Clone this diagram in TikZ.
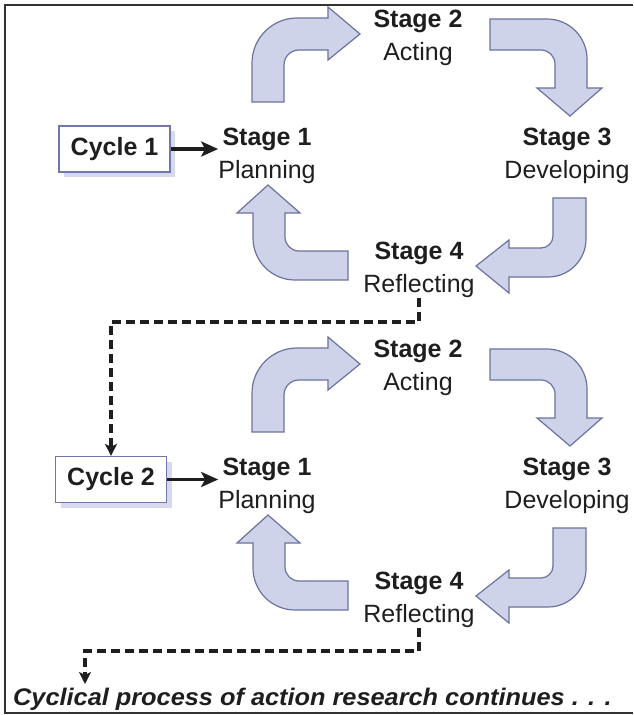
\documentclass[tikz,border=0pt]{standalone}
\usepackage{fontspec}
\setmainfont{Liberation Sans}
\usetikzlibrary{arrows.meta,shadows}
\definecolor{arrfill}{RGB}{206,211,233}
\definecolor{arrline}{RGB}{108,114,158}
\definecolor{boxline}{RGB}{112,118,176}
\definecolor{shadowc}{RGB}{214,217,236}
\definecolor{txt}{RGB}{30,30,30}
\definecolor{framec}{RGB}{50,50,50}
\tikzset{
  bigarrow/.style={fill=arrfill, draw=arrline, line width=1.2pt, line join=miter},
  stagelbl/.style={align=center, inner sep=0pt, anchor=north, text=txt, font=\fontsize{25}{33}\selectfont},
  cyclebox/.style={draw=boxline, line width=1.2pt, fill=white, minimum width=111pt, minimum height=46pt, inner sep=0pt, font=\fontsize{25}{30}\selectfont\bfseries, text=txt,
    drop shadow={shadow xshift=5pt, shadow yshift=-5pt, fill=shadowc, opacity=1}},
  solidconn/.style={line width=3.2pt, draw=txt, -{Stealth[length=17pt,width=15pt,inset=4pt]}},
  dashconn/.style={line width=3.2pt, draw=txt, dash pattern=on 9pt off 5pt, -{Stealth[length=12pt,width=12pt,inset=3pt]}},
  conttext/.style={inner sep=0pt, anchor=base west, text=txt, font=\fontsize{24}{28}\selectfont\bfseries\itshape},
}
\newcommand\cyclestages[2]{%
\begin{scope}[shift={(0,#2)}]
  % arrow: Planning -> Acting
  \draw[bigarrow] (252,102) -- (252,63) .. controls (252,38.2) and (272.2,18) .. (297,18)
     -- (328,18) -- (328,7) -- (360,34) -- (328,60) -- (328,50) -- (299,50)
     .. controls (290.7,50) and (284,56.7) .. (284,65) -- (284,102) -- cycle;
  % arrow: Acting -> Developing
  \draw[bigarrow] (490,19) -- (547,19) .. controls (569.1,19) and (587,36.9) .. (587,59)
     -- (587,88) -- (602,88) -- (570,116) -- (537,88) -- (555,88) -- (555,64)
     .. controls (555,56.3) and (548.7,50) .. (541,50) -- (490,50) -- cycle;
  % arrow: Developing -> Reflecting
  \draw[bigarrow] (553,198) -- (586,198) -- (586,239) .. controls (586,260) and (569,277) .. (548,277)
     -- (509,277) -- (509,293) -- (476,266) -- (509,240) -- (509,248) -- (541,248)
     .. controls (547.6,248) and (553,242.6) .. (553,236) -- cycle;
  % arrow: Reflecting -> Planning
  \draw[bigarrow] (348,251) -- (299,251) .. controls (291.3,251) and (285,244.7) .. (285,237)
     -- (285,213) -- (300,213) -- (268,185) -- (237,213) -- (253,213) -- (253,238)
     .. controls (253,261.2) and (271.8,280) .. (295,280) -- (348,280) -- cycle;
  \node[stagelbl] (s1#1) at (267,128) {\textbf{Stage 1}\\Planning};
  \node[stagelbl] (s2#1) at (418,10) {\textbf{Stage 2}\\Acting};
  \node[stagelbl] (s3#1) at (567,128) {\textbf{Stage 3}\\Developing};
  \node[stagelbl] (s4#1) at (419,242) {\textbf{Stage 4}\\Reflecting};
\end{scope}}
\begin{document}
\begin{tikzpicture}[x=1pt,y=-1pt]
  \useasboundingbox (0,0) rectangle (633,715);
  \fill[white] (0,0) rectangle (633,715);
  \draw[line width=1.5pt, framec] (633,5) -- (5,5) -- (5,713) -- (633,713);
  \cyclestages{a}{0}
  \cyclestages{b}{330}
  \node[cyclebox] (c1) at (114.5,149) {Cycle 1};
  \node[cyclebox] (c2) at (111,479.5) {Cycle 2};
  \draw[solidconn] (c1.east) -- (c1.east -| s1a.west);
  \draw[solidconn] (c2.east) -- (c2.east -| s1b.west);
  \node[conttext] (cont) at (13,705) {\scalebox{1.055}[1]{Cyclical process of action research continues . . .}};
  \coordinate (cend) at (85,684);
  \draw[dashconn] (s4a.south) -- ++(0,24) -| (c2.north);
  \draw[dashconn] (s4b.south) -- ++(0,23) -| (cend);
\end{tikzpicture}
\end{document}
